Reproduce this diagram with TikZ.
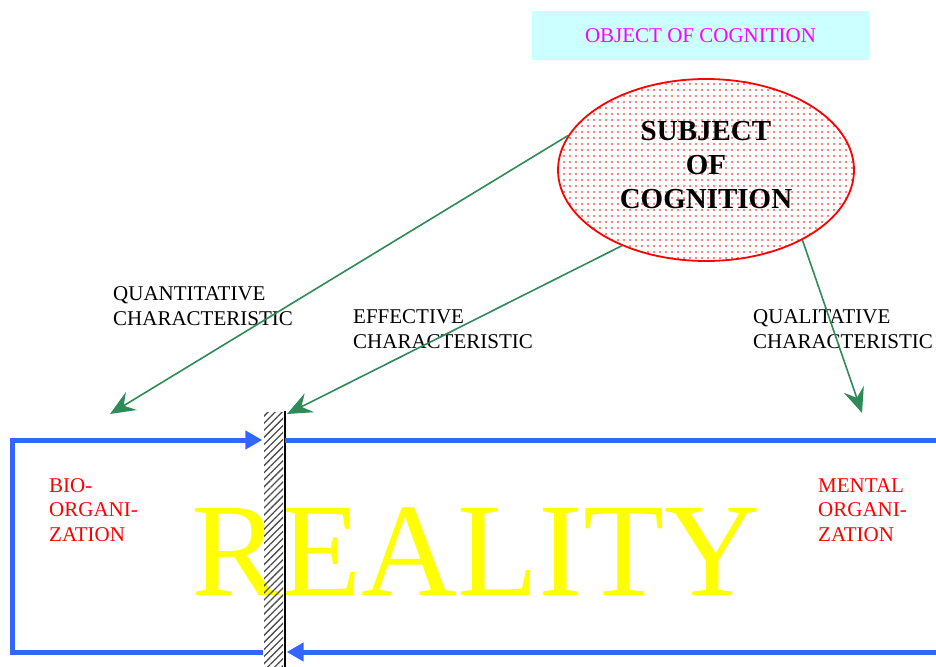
\documentclass[tikz,border=0pt]{standalone}
\usepackage{fontspec}
\setmainfont{Liberation Serif}
\usepackage{tikz}
\usetikzlibrary{positioning, arrows.meta, shapes.geometric, patterns.meta, calc}
\definecolor{skycyan}{RGB}{204,255,255}
\definecolor{objmag}{RGB}{255,0,255}
\definecolor{linkgreen}{RGB}{46,139,87}
\definecolor{flowblue}{RGB}{51,102,255}
\definecolor{realyellow}{RGB}{255,255,0}

\begin{document}
\begin{tikzpicture}[x=1pt, y=-1pt,
  link/.style={line width=1.6pt, color=linkgreen, -{Stealth[length=25pt, width=21pt, inset=9pt]}},
  flow/.style={line width=5pt, color=flowblue},
  flowtip/.style={flow, -{Triangle[length=17pt, width=18pt]}},
  charlabel/.style={font=\fontsize{21}{25}\selectfont, align=left, anchor=north west, inner sep=0pt},
  orglabel/.style={font=\fontsize{21}{24.5}\selectfont, text=red, align=left, anchor=north west, inner sep=0pt},
]
  \useasboundingbox (0,0) rectangle (936,666);

  % object and subject
  \node[fill=skycyan, minimum width=337pt, minimum height=49pt, inner sep=0pt, text=objmag,
    font=\fontsize{21}{25}\selectfont] (object) at (700.5,35.5) {OBJECT OF COGNITION};
  \node[ellipse, draw=red, line width=1.8pt, pattern={Dots[distance=6pt, radius=0.9pt]}, pattern color=red,
    minimum width=296pt, minimum height=182pt, inner sep=0pt, align=center, text depth=10pt,
    font=\bfseries\fontsize{29}{34}\selectfont] (subject) at (706,170) {SUBJECT\\OF\\COGNITION};

  % characteristics
  \node[charlabel] (quant) at (113,286) {QUANTITATIVE\\CHARACTERISTIC};
  \node[charlabel] (effect) at (353,309) {EFFECTIVE\\CHARACTERISTIC};
  \node[charlabel] (qual) at (753,309) {QUALITATIVE\\CHARACTERISTIC};
  \coordinate (quanttip) at (110,414);
  \coordinate (effecttip) at (287,414);
  \coordinate (qualtip) at (862,413);
  \draw[link] (subject.166.6) -- (quanttip);
  \draw[link] (subject.222.5) -- (effecttip);
  \draw[link] (subject.324.2) -- (qualtip);

  % reality
  \node[text=realyellow, font=\fontsize{133}{133}\selectfont, anchor=base, inner sep=0pt] (reality) at (476,595) {REALITY};
  \node[orglabel] (bio) at (49,478) {BIO-\\ORGANI-\\ZATION};
  \node[orglabel] (mental) at (818,478) {MENTAL\\ORGANI-\\ZATION};

  % wall
  \node[draw=none, pattern={Lines[angle=45, distance=5pt, line width=1.3pt]}, pattern color=black!70,
    minimum width=19pt, minimum height=254pt, inner sep=0pt] (wall) at (273.5,539) {};
  \draw[line width=1.6pt] ([xshift=1.5pt]wall.north east) -- ([xshift=1.5pt]wall.south east);

  % flows
  \coordinate (lefttop) at (12,440);
  \coordinate (leftbot) at (12,652);
  \coordinate (righttop) at (936,440);
  \coordinate (rightbot) at (936,652);
  \draw[flowtip] (leftbot -| wall.west) -- (leftbot) -- (lefttop) -- ([xshift=-1pt]lefttop -| wall.west);
  \draw[flow] ([xshift=1.5pt]righttop -| wall.east) -- (righttop);
  \draw[flowtip] (rightbot) -- ([xshift=3pt]rightbot -| wall.east);
\end{tikzpicture}
\end{document}
